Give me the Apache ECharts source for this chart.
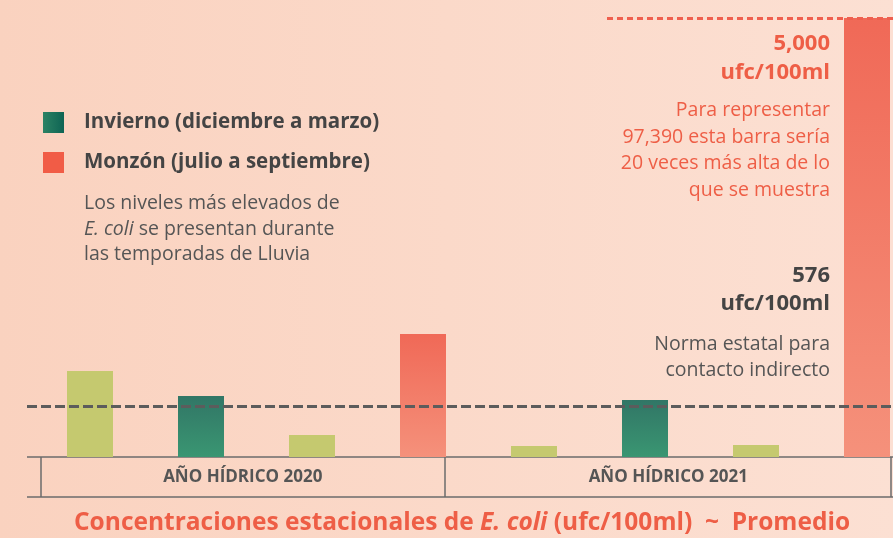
<!DOCTYPE html>
<html>
<head>
<meta charset="utf-8">
<title>E. coli estacional</title>
<script src="https://cdn.jsdelivr.net/npm/echarts@6/dist/echarts.min.js"></script>
<style>
  html, body { margin: 0; padding: 0; }
  #chart { width: 893px; height: 538px; }
</style>
</head>
<body>
<div id="chart"></div>
<script>
// datos (ufc/100ml, promedio por temporada)
const categories = ['Oct-Nov 2020', 'Invierno 2020', 'Abr-Jun 2020', 'Monzón 2020',
                    'Oct-Nov 2021', 'Invierno 2021', 'Abr-Jun 2021', 'Monzón 2021'];
const otrasValues    = [980, null, 250, null, 125, null, 137, null];
const inviernoValues = [null, 695, null, null, null, 650, null, null];
const monzonValues   = [null, null, null, 1400, null, null, null, 5000]; // 97,390 recortado a 5,000
const groupLabels = ['AÑO HÍDRICO 2020', 'AÑO HÍDRICO 2021'];
const normaEstatal = 576;
const topeEscala = 5000;

const FONT = '"Open Sans", Roboto, sans-serif';
const RED = '#ee5e46';
const DARK = '#444444';
const GRAY = '#555555';
const LINE = '#6b6b6b';

var chart = echarts.init(document.getElementById('chart'));

var greenGrad = new echarts.graphic.LinearGradient(0, 0, 0, 1, [
  { offset: 0, color: '#317666' },
  { offset: 1, color: '#3a9672' }
]);
var redGrad = new echarts.graphic.LinearGradient(0, 0, 0, 1, [
  { offset: 0, color: '#f06957' },
  { offset: 1, color: '#f5917b' }
]);

chart.setOption({
  backgroundColor: new echarts.graphic.LinearGradient(0, 0, 1, 0, [
    { offset: 0, color: '#fad2bf' },
    { offset: 1, color: '#fce0d3' }
  ]),
  textStyle: { fontFamily: FONT },
  animation: false,
  title: {
    left: 74,
    top: 511,
    padding: 0,
    text: '{a|Concentraciones estacionales de }{b|E. coli}{a| (ufc/100ml)  ~  Promedio}',
    textStyle: {
      rich: {
        a: { fontFamily: FONT, fontSize: 24.5, fontWeight: 'bold', color: RED },
        b: { fontFamily: FONT, fontSize: 24.5, fontWeight: 'bold', fontStyle: 'italic', color: RED }
      }
    }
  },
  legend: {
    orient: 'vertical',
    left: 43,
    top: 112,
    padding: 0,
    icon: 'rect',
    itemWidth: 21,
    itemHeight: 21,
    itemGap: 19,
    selectedMode: false,
    textStyle: { fontFamily: FONT, fontSize: 20.5, fontWeight: 'bold', color: DARK, padding: [0, 0, 0, 15] },
    data: [
      { name: 'Invierno (diciembre a marzo)',
        itemStyle: { color: new echarts.graphic.LinearGradient(0, 0, 1, 0, [
          { offset: 0, color: '#2c8264' }, { offset: 1, color: '#0e6454' }]) } },
      { name: 'Monzón (julio a septiembre)', itemStyle: { color: '#f15c46' } }
    ]
  },
  grid: [
    { left: 34.5, width: 888, top: 18, bottom: 81, outerBoundsMode: 'none' },
    { left: 30, right: 12, top: 457, height: 40, outerBoundsMode: 'none' }
  ],
  xAxis: [
    {
      type: 'category',
      gridIndex: 0,
      data: categories,
      axisLine: { show: false },
      axisTick: { show: false },
      axisLabel: { show: false }
    },
    {
      type: 'category',
      gridIndex: 1,
      position: 'top',
      offset: -20,
      data: groupLabels,
      axisLine: { show: false },
      axisTick: { show: false },
      axisLabel: { fontFamily: FONT, fontSize: 17, fontWeight: 'bold', color: GRAY, margin: 0, verticalAlign: 'middle' }
    }
  ],
  yAxis: [
    { type: 'value', gridIndex: 0, min: 0, max: topeEscala, show: false, splitLine: { show: false } },
    { type: 'value', gridIndex: 1, show: false }
  ],
  series: [
    {
      name: 'Otras temporadas',
      type: 'bar',
      barWidth: 46,
      barGap: '-100%',
      itemStyle: { color: '#c5c96f' },
      data: otrasValues
    },
    {
      name: 'Invierno (diciembre a marzo)',
      type: 'bar',
      barWidth: 46,
      barGap: '-100%',
      itemStyle: { color: greenGrad },
      data: inviernoValues,
      markLine: {
        silent: true,
        symbol: 'none',
        label: { show: false },
        lineStyle: { color: '#5c5c5c', type: [10, 4], width: 3 },
        data: [[{ yAxis: normaEstatal, x: 27 }, { yAxis: normaEstatal, x: '100%' }]]
      }
    },
    {
      name: 'Monzón (julio a septiembre)',
      type: 'bar',
      barWidth: 46,
      barGap: '-100%',
      itemStyle: { color: redGrad },
      data: monzonValues,
      markLine: {
        silent: true,
        symbol: 'none',
        label: { show: false },
        lineStyle: { color: '#ef5f4e', type: [6, 4], width: 3 },
        data: [[{ yAxis: topeEscala, x: 607 }, { yAxis: topeEscala, x: '100%' }]]
      }
    }
  ],
  graphic: [
    // caja de los años hidrológicos
    { type: 'line', shape: { x1: 27, y1: 457, x2: 893, y2: 457 }, style: { stroke: LINE, lineWidth: 1.5 } },
    { type: 'line', shape: { x1: 27, y1: 497, x2: 893, y2: 497 }, style: { stroke: LINE, lineWidth: 1.5 } },
    { type: 'line', shape: { x1: 41, y1: 457, x2: 41, y2: 497 }, style: { stroke: LINE, lineWidth: 1.5 } },
    { type: 'line', shape: { x1: 445, y1: 457, x2: 445, y2: 497 }, style: { stroke: LINE, lineWidth: 1.5 } },
    { type: 'line', shape: { x1: 891, y1: 457, x2: 891, y2: 497 }, style: { stroke: LINE, lineWidth: 1.5 } },
    // nota de la leyenda
    {
      type: 'text', x: 84, y: 191,
      style: {
        text: '{n|Los niveles más elevados de}\n{i|E. coli}{n| se presentan durante}\n{n|las temporadas de Lluvia}',
        rich: {
          n: { fontFamily: FONT, fontSize: 19.5, fill: GRAY, lineHeight: 25.5 },
          i: { fontFamily: FONT, fontSize: 19.5, fill: GRAY, fontStyle: 'italic', lineHeight: 25.5 }
        }
      }
    },
    // anotaciones a la derecha
    {
      type: 'text', x: 830, y: 29,
      style: { text: '5,000\nufc/100ml', fontFamily: FONT, fontSize: 22, fontWeight: 'bold',
               fill: RED, align: 'right', verticalAlign: 'top', lineHeight: 29 }
    },
    {
      type: 'text', x: 830, y: 97,
      style: { text: 'Para representar\n97,390 esta barra sería\n20 veces más alta de lo\nque se muestra',
               fontFamily: FONT, fontSize: 19.5, fill: RED, align: 'right', verticalAlign: 'top', lineHeight: 26.7 }
    },
    {
      type: 'text', x: 830, y: 262,
      style: { text: '576\nufc/100ml', fontFamily: FONT, fontSize: 22, fontWeight: 'bold',
               fill: DARK, align: 'right', verticalAlign: 'top', lineHeight: 27.5 }
    },
    {
      type: 'text', x: 830, y: 331,
      style: { text: 'Norma estatal para\ncontacto indirecto', fontFamily: FONT, fontSize: 19.5,
               fill: GRAY, align: 'right', verticalAlign: 'top', lineHeight: 26 }
    }
  ]
});
</script>
</body>
</html>
